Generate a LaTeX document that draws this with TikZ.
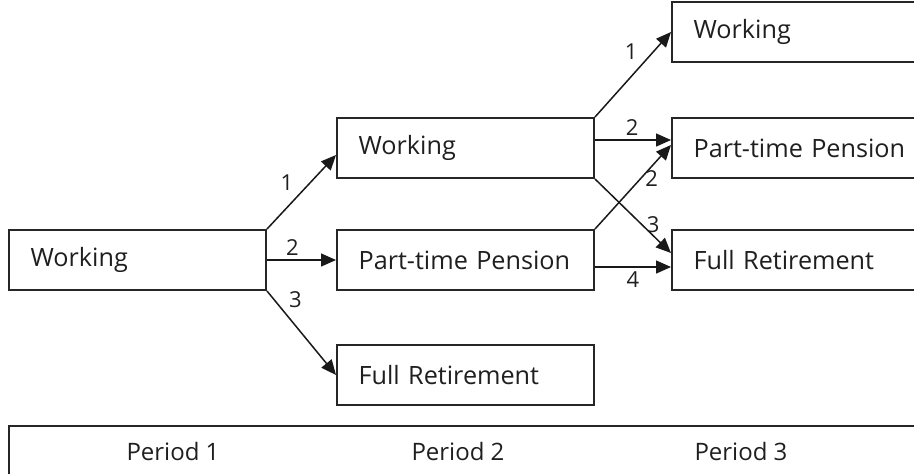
\documentclass[tikz,border=0pt]{standalone}
\usepackage{fontspec}
\setmainfont{Open Sans}
\usetikzlibrary{arrows.meta,positioning,calc}
\colorlet{inkcol}{black!88}

\begin{document}
\begin{tikzpicture}[
   x=0.5pt, y=-0.5pt,
   >={Triangle[length=7.5pt,width=6.5pt]},
   box/.style={draw=black!85, line width=1pt, minimum height=30pt,
               text width=116.5pt, inner xsep=6pt, inner ysep=0pt, align=left,
               font=\fontsize{12.6}{15}\selectfont, text=inkcol,
               execute at begin node=\hspace*{4.8pt}},
   bar/.style={draw=black!85, line width=1pt, minimum height=25pt,
               minimum width=461pt, inner sep=0pt},
   period/.style={font=\fontsize{12}{14}\selectfont, text=inkcol, inner sep=0pt},
   move/.style={->, line width=0.75pt, black!90},
   num/.style={font=\fontsize{11}{13}\selectfont, text=inkcol, inner sep=2pt},
]
\useasboundingbox (0,0) rectangle (914,473);
\clip (0,0) rectangle (914,473);
% period 1
\node[box, anchor=west] (wk1) at (8,260) {Working};
% period 2
\node[box, above right=25pt and 34.5pt of wk1] (wk2) {Working};
\node[box, right=34.5pt of wk1] (pt2) {Part-time Pension};
\node[box, below=26.5pt of pt2] (fr2) {Full Retirement};
% period 3
\node[box, above right=27pt and 38pt of wk2] (wk3) {Working};
\node[box, right=38pt of wk2] (pt3) {Part-time Pension};
\node[box, right=38pt of pt2] (fr3) {Full Retirement};
% period bar
\node[bar, anchor=north west] (bar) at ($(wk1.west |- fr2.south)+(0,-9.5pt)$) {};
\node[period] (p1) at ($(bar.west)+(82.5pt,0)$) {Period 1};
\node[period] (p2) at ($(bar.west)+(225pt,0)$) {Period 2};
\node[period] (p3) at ($(bar.west)+(366.5pt,0)$) {Period 3};
% transitions
\draw[move] (wk1.north east) -- ([yshift=-3.5pt]wk2.west) node[num, pos=0.45, above left] {1};
\draw[move] (wk1.east) -- (pt2.west) node[num, pos=0.37, above] {2};
\draw[move] (wk1.south east) -- (fr2.west) node[num, pos=0.25, above right] {3};
\draw[move] (wk2.north east) -- (wk3.west) node[num, pos=0.62, above left] {1};
\draw[move] ([yshift=4pt]wk2.east) -- ([yshift=4pt]pt3.west) node[num, pos=0.49, above] {2};
\draw[move] (pt2.north east) -- ([yshift=1.5pt]pt3.west) node[num, pos=0.6, right] {2};
\draw[move] (wk2.south east) -- ([yshift=3.5pt]fr3.west) node[num, pos=0.62, right] {3};
\draw[move] ([yshift=-3.5pt]pt2.east) -- ([yshift=-3.5pt]fr3.west) node[num, pos=0.5, below] {4};
\end{tikzpicture}
\end{document}
